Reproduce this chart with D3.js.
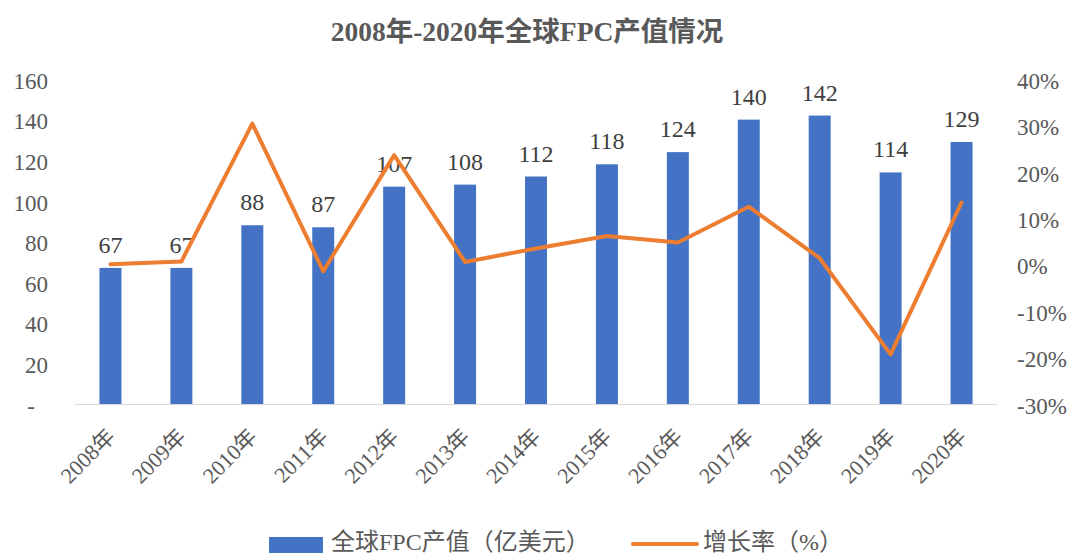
<!DOCTYPE html>
<html>
<head>
<meta charset="UTF-8" />
<script src="https://cdn.jsdelivr.net/npm/d3@7"></script>
<style>
  body { margin: 0; background: #fff; }
  svg text { font-family: "Liberation Serif", "Noto Sans CJK SC", serif; }
</style>
</head>
<body>
<div id="chart"></div>
<script>
// data
const years = ["2008年","2009年","2010年","2011年","2012年","2013年","2014年","2015年","2016年","2017年","2018年","2019年","2020年"];
const output = [67, 67, 88, 87, 107, 108, 112, 118, 124, 140, 142, 114, 129];
const growth = [0.1, 0.7, 30.4, -1.4, 23.6, 0.6, 3.5, 6.2, 4.8, 12.5, 1.4, -19.3, 13.4];
const leftTicks = [0, 20, 40, 60, 80, 100, 120, 140, 160];
const rightTicks = [-30, -20, -10, 0, 10, 20, 30, 40];

const W = 1070, H = 553;
const plotLeft = 75, plotRight = 997, plotTop = 79, plotBottom = 404;

const svg = d3.select("#chart").append("svg")
    .attr("width", W).attr("height", H);

svg.append("text")
    .attr("x", 527).attr("y", 41)
    .attr("text-anchor", "middle")
    .attr("font-size", 27.5).attr("font-weight", "bold")
    .attr("fill", "#595959")
    .text("2008年-2020年全球FPC产值情况");

const x = d3.scaleBand().domain(years).range([plotLeft, plotRight]).paddingInner(0.69).paddingOuter(0.345);
const y = d3.scaleLinear().domain([0, 160]).range([plotBottom, plotTop]);
const y2 = d3.scaleLinear().domain([-30, 40]).range([plotBottom, plotTop]);

// left axis
const yAxis = d3.axisLeft(y).tickValues(leftTicks).tickSize(0).tickPadding(27)
    .tickFormat(d => d === 0 ? "-" : d);
const gy = svg.append("g").attr("transform", `translate(${plotLeft},0)`).call(yAxis);
gy.select(".domain").remove();
gy.selectAll("text").attr("font-size", 23).attr("fill", "#595959")
    .attr("dy", "0.4em")
    .filter(d => d === 0).attr("x", -40);

// right axis
const y2Axis = d3.axisRight(y2).tickValues(rightTicks).tickSize(0).tickPadding(20)
    .tickFormat(d => d + "%");
const gy2 = svg.append("g").attr("transform", `translate(${plotRight},0)`).call(y2Axis);
gy2.select(".domain").remove();
gy2.selectAll("text").attr("font-size", 23).attr("fill", "#595959").attr("dy", "0.4em");

// bars
svg.append("g").selectAll("rect").data(output).join("rect")
    .attr("x", (d, i) => x(years[i]))
    .attr("y", d => y(d))
    .attr("width", x.bandwidth())
    .attr("height", d => y(0) - y(d))
    .attr("fill", "#4472C4");

// baseline
svg.append("line")
    .attr("x1", plotLeft).attr("x2", plotRight)
    .attr("y1", plotBottom + 0.5).attr("y2", plotBottom + 0.5)
    .attr("stroke", "#d9d9d9").attr("stroke-width", 1);

// x axis labels
const xAxis = d3.axisBottom(x).tickSize(0).tickPadding(0);
const gx = svg.append("g").attr("transform", `translate(0,${plotBottom})`).call(xAxis);
gx.select(".domain").remove();
gx.selectAll("text")
    .attr("font-size", 22).attr("fill", "#595959")
    .attr("text-anchor", "end")
    .attr("x", 0).attr("y", 0).attr("dy", 0)
    .attr("transform", "translate(6,34) rotate(-45)");

// data labels
svg.append("g").selectAll("text").data(output).join("text")
    .attr("x", (d, i) => x(years[i]) + x.bandwidth() / 2)
    .attr("y", d => y(d) - 15)
    .attr("text-anchor", "middle")
    .attr("font-size", 24).attr("fill", "#404040")
    .text(d => d);

// growth line
const line = d3.line()
    .x((d, i) => x(years[i]) + x.bandwidth() / 2)
    .y(d => y2(d));
svg.append("path").datum(growth)
    .attr("d", line)
    .attr("fill", "none")
    .attr("stroke", "#ED7D31")
    .attr("stroke-width", 4)
    .attr("stroke-linejoin", "round")
    .attr("stroke-linecap", "round");

// legend
const lg = svg.append("g");
lg.append("rect").attr("x", 269).attr("y", 537).attr("width", 54).attr("height", 20).attr("fill", "#4472C4");
lg.append("text").attr("x", 331).attr("y", 550).attr("font-size", 24).attr("fill", "#595959")
    .text("全球FPC产值（亿美元）");
lg.append("line").attr("x1", 633).attr("x2", 697).attr("y1", 544).attr("y2", 544)
    .attr("stroke", "#ED7D31").attr("stroke-width", 4).attr("stroke-linecap", "round");
lg.append("text").attr("x", 703).attr("y", 550).attr("font-size", 24).attr("fill", "#595959")
    .text("增长率（%）");
</script>
</body>
</html>
